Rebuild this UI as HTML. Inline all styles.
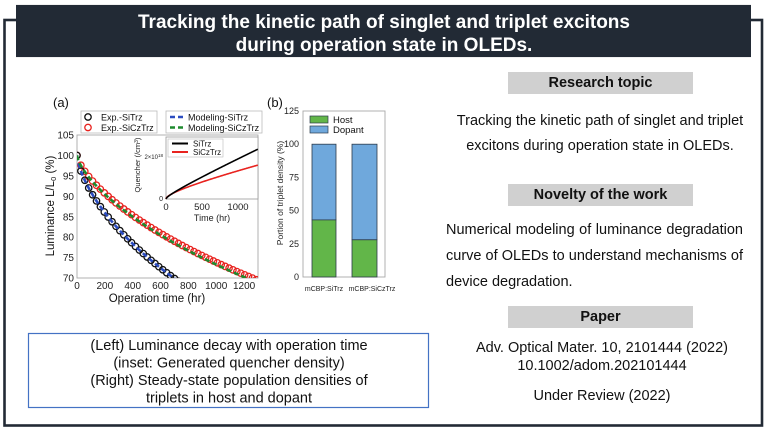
<!DOCTYPE html>
<html><head><meta charset="utf-8">
<style>
html,body{margin:0;padding:0;background:#fff;}
#wrap{position:relative;width:768px;height:432px;overflow:hidden;background:#fff;font-family:"Liberation Sans",Arial,sans-serif;color:#111;}
.abs{position:absolute;}
.gbox{position:absolute;left:508px;width:185px;height:22px;background:#d0d0d0;font-weight:bold;font-size:14.5px;text-align:center;line-height:22px;color:#111;}
.ctr{position:absolute;left:430px;width:340px;text-align:center;font-size:14.5px;white-space:nowrap;}
</style></head><body>
<div id="wrap">
<svg width="768" height="432" viewBox="0 0 768 432" style="position:absolute;left:0;top:0" font-family="Liberation Sans, Arial, sans-serif">
  <!-- frame -->
  <rect x="4.5" y="20" width="757.5" height="405.5" fill="none" stroke="#222a35" stroke-width="2.6"/>
  <rect x="16" y="4.5" width="735" height="53" fill="#e0e0e0"/>
  <rect x="16" y="5" width="735" height="52" fill="#222a35"/>
  <text x="384" y="28" text-anchor="middle" fill="#fff" font-weight="bold" font-size="19">Tracking the kinetic path of singlet and triplet excitons</text>
  <text x="384" y="51" text-anchor="middle" fill="#fff" font-weight="bold" font-size="19">during operation state in OLEDs.</text>

  <!-- ============ Chart (a) ============ -->
  <text x="53" y="107" font-size="13" fill="#111">(a)</text>
  <defs><clipPath id="cpA"><rect x="77" y="135" width="181" height="143"/></clipPath></defs>
  <rect x="77" y="135" width="181" height="143" fill="#fff" stroke="#a8a8a8" stroke-width="0.9"/>
  <g font-size="10" fill="#222" text-anchor="end">
    <text x="74" y="138.5">105</text>
    <text x="74" y="159">100</text>
    <text x="74" y="179.5">95</text>
    <text x="74" y="199.9">90</text>
    <text x="74" y="220.3">85</text>
    <text x="74" y="240.7">80</text>
    <text x="74" y="261.1">75</text>
    <text x="74" y="281.5">70</text>
  </g>
  <g font-size="10" fill="#222" text-anchor="middle">
    <text x="77" y="289">0</text>
    <text x="104.8" y="289">200</text>
    <text x="132.7" y="289">400</text>
    <text x="160.5" y="289">600</text>
    <text x="188.4" y="289">800</text>
    <text x="216.2" y="289">1000</text>
    <text x="244.1" y="289">1200</text>
  </g>
  <text x="157" y="302" font-size="11.5" text-anchor="middle" fill="#111">Operation time (hr)</text>
  <text transform="translate(54,206) rotate(-90)" font-size="11.5" text-anchor="middle" fill="#111">Luminance L/L<tspan font-size="7.5" dy="2">0</tspan><tspan dy="-2"> (%)</tspan></text>
  <g id="curvesA" clip-path="url(#cpA)"></g>

  <!-- legend (a) -->
  <rect x="81" y="111" width="76" height="22" fill="#fff" stroke="#bbb" stroke-width="0.8"/>
  <circle cx="88" cy="117" r="3.2" fill="none" stroke="#111" stroke-width="1.3"/>
  <circle cx="88" cy="127.5" r="3.2" fill="none" stroke="#e8231f" stroke-width="1.3"/>
  <text x="101" y="120.5" font-size="9" fill="#111">Exp.-SiTrz</text>
  <text x="101" y="131" font-size="9" fill="#111">Exp.-SiCzTrz</text>
  <rect x="166" y="111" width="96" height="22" fill="#fff" stroke="#bbb" stroke-width="0.8"/>
  <line x1="170" y1="117" x2="184" y2="117" stroke="#2b4cc0" stroke-width="2.5" stroke-dasharray="5 3"/>
  <line x1="170" y1="127.5" x2="184" y2="127.5" stroke="#1e8a2e" stroke-width="2.5" stroke-dasharray="5 3"/>
  <text x="188" y="120.5" font-size="9" fill="#111">Modeling-SiTrz</text>
  <text x="188" y="131" font-size="9" fill="#111">Modeling-SiCzTrz</text>

  <!-- inset -->
  <rect x="166" y="137" width="92" height="62" fill="#fff" stroke="#999" stroke-width="0.8"/>
  <g id="curvesI"></g>
  <rect x="168" y="139" width="55" height="18" fill="#fff" stroke="#bbb" stroke-width="0.6"/>
  <line x1="172" y1="143.5" x2="188" y2="143.5" stroke="#000" stroke-width="2"/>
  <line x1="172" y1="152" x2="188" y2="152" stroke="#e8231f" stroke-width="2"/>
  <text x="193" y="146.5" font-size="8" fill="#111">SiTrz</text>
  <text x="193" y="155" font-size="8" fill="#111">SiCzTrz</text>
  <g font-size="9.5" fill="#222" text-anchor="middle">
    <text x="166" y="210">0</text>
    <text x="202" y="210">500</text>
    <text x="238" y="210">1000</text>
  </g>
  <text x="212" y="221" font-size="9" text-anchor="middle" fill="#222">Time (hr)</text>
  <text x="163" y="201" font-size="7" text-anchor="end" fill="#222">0</text>
  <text x="163" y="159" font-size="6" text-anchor="end" fill="#222">2×10<tspan font-size="4.5" dy="-2">18</tspan></text>
  <text transform="translate(140,165) rotate(-90)" font-size="7.5" text-anchor="middle" fill="#222">Quencher (/cm<tspan font-size="5" dy="-2">3</tspan><tspan dy="2">)</tspan></text>

  <!-- ============ Chart (b) ============ -->
  <text x="267" y="107" font-size="13" fill="#111">(b)</text>
  <rect x="303" y="111" width="82" height="166" fill="#fff" stroke="#a8a8a8" stroke-width="0.9"/>
  <g font-size="9" fill="#222" text-anchor="end">
    <text x="299" y="114">125</text>
    <text x="299" y="147.2">100</text>
    <text x="299" y="180.4">75</text>
    <text x="299" y="213.6">50</text>
    <text x="299" y="246.8">25</text>
    <text x="299" y="280">0</text>
  </g>
  <rect x="312" y="144.2" width="24" height="75.7" fill="#6fa8dc" stroke="#2d3b4a" stroke-width="0.8"/>
  <rect x="312" y="219.9" width="24" height="57.1" fill="#62b649" stroke="#2d3b4a" stroke-width="0.8"/>
  <rect x="352" y="144.2" width="25" height="95.6" fill="#6fa8dc" stroke="#2d3b4a" stroke-width="0.8"/>
  <rect x="352" y="239.8" width="25" height="37.2" fill="#62b649" stroke="#2d3b4a" stroke-width="0.8"/>
  <rect x="310" y="116" width="18" height="7" fill="#62b649" stroke="#2d3b4a" stroke-width="0.7"/>
  <rect x="310" y="126" width="18" height="7" fill="#6fa8dc" stroke="#2d3b4a" stroke-width="0.7"/>
  <text x="333" y="123" font-size="9.5" fill="#111">Host</text>
  <text x="333" y="133" font-size="9.5" fill="#111">Dopant</text>
  <text transform="translate(283,193) rotate(-90)" font-size="8.5" text-anchor="middle" fill="#222">Portion of triplet density (%)</text>
  <text x="324" y="291" font-size="7" text-anchor="middle" fill="#222">mCBP:SiTrz</text>
  <text x="372" y="291" font-size="7" text-anchor="middle" fill="#222">mCBP:SiCzTrz</text>

  <!-- caption box -->
  <rect x="28.5" y="333.5" width="400" height="74" fill="#fff" stroke="#4472c4" stroke-width="1.2"/>
  <g font-size="14.5" fill="#111" text-anchor="middle">
    <text x="229" y="350">(Left) Luminance decay with operation time</text>
    <text x="229" y="367.5">(inset: Generated quencher density)</text>
    <text x="229" y="385">(Right) Steady-state population densities of</text>
    <text x="229" y="402.5">triplets in host and dopant</text>
  </g>
</svg>

<!-- right column -->
<div class="gbox" style="top:72px;">Research topic</div>
<div class="ctr" style="top:109px;line-height:25px;left:430px;width:340px;">Tracking the kinetic path of singlet and triplet<br>excitons during operation state in OLEDs.</div>
<div class="gbox" style="top:184px;">Novelty of the work</div>
<div class="abs" style="left:446px;top:217px;width:297px;font-size:14.5px;line-height:26px;text-align:justify;text-align-last:left;">Numerical modeling of luminance degradation curve of OLEDs to understand mechanisms of device degradation.</div>
<div class="gbox" style="top:306px;">Paper</div>
<div class="ctr" style="top:339px;line-height:18px;left:432px;">Adv. Optical Mater. 10, 2101444 (2022)<br>10.1002/adom.202101444</div>
<div class="ctr" style="top:387px;line-height:18px;left:432px;">Under Review (2022)</div>
</div>

<script>
(function(){
  var NS='http://www.w3.org/2000/svg';
  function X(t){return 77+t*181/1300;}
  function Y(L){return 278-(L-70)*143/35;}
  function Lb(t){return 100*Math.exp(-Math.pow(t/3096,0.69));}
  function Lr(t){return 100*Math.exp(-Math.pow(t/5431,0.705));}
  function Lg(t){return 100*Math.exp(-Math.pow(t/5250,0.705));}
  var g=document.getElementById('curvesA');
  function circ(t,L,col){
    var c=document.createElementNS(NS,'circle');
    c.setAttribute('cx',X(t).toFixed(2));c.setAttribute('cy',Y(L).toFixed(2));
    c.setAttribute('r','3.2');c.setAttribute('fill','none');
    c.setAttribute('stroke',col);c.setAttribute('stroke-width','1.3');
    g.appendChild(c);
  }
  function path(f,t0,t1,col,parent,xf,yf,w,dash){
    var d='';
    for(var t=t0;t<=t1;t+=5){
      d+=(d?'L':'M')+xf(t).toFixed(2)+','+yf(f(t)).toFixed(2);
    }
    var p=document.createElementNS(NS,'path');
    p.setAttribute('d',d);p.setAttribute('fill','none');
    p.setAttribute('stroke',col);p.setAttribute('stroke-width',w);
    if(dash)p.setAttribute('stroke-dasharray',dash);
    parent.appendChild(p);
  }
  for(var t=0;t<=1300;t+=28){var L=Lr(t); if(L<69)break; circ(t,L,'#e8231f');}
  for(var t=0;t<=800;t+=28){var L=Lb(t); if(L<69)break; circ(t,L,'#111');}
  path(Lb,0,760,'#2b4cc0',g,X,Y,2.6,'5 3');
  path(Lg,0,1300,'#1e8a2e',g,X,Y,2.6,'5 3');
  var gi=document.getElementById('curvesI');
  function XI(t){return 166+t*0.072;}
  function YI(v){return v;}
  function Qb(t){return 199-(0.293*Math.sqrt(t)+0.03085*t);}
  function Qr(t){return 199-(0.442*Math.sqrt(t)+0.0142*t);}
  path(Qr,0,1275,'#e8231f',gi,XI,YI,1.6);
  path(Qb,0,1275,'#000',gi,XI,YI,1.6);
})();
</script>
</body></html>
